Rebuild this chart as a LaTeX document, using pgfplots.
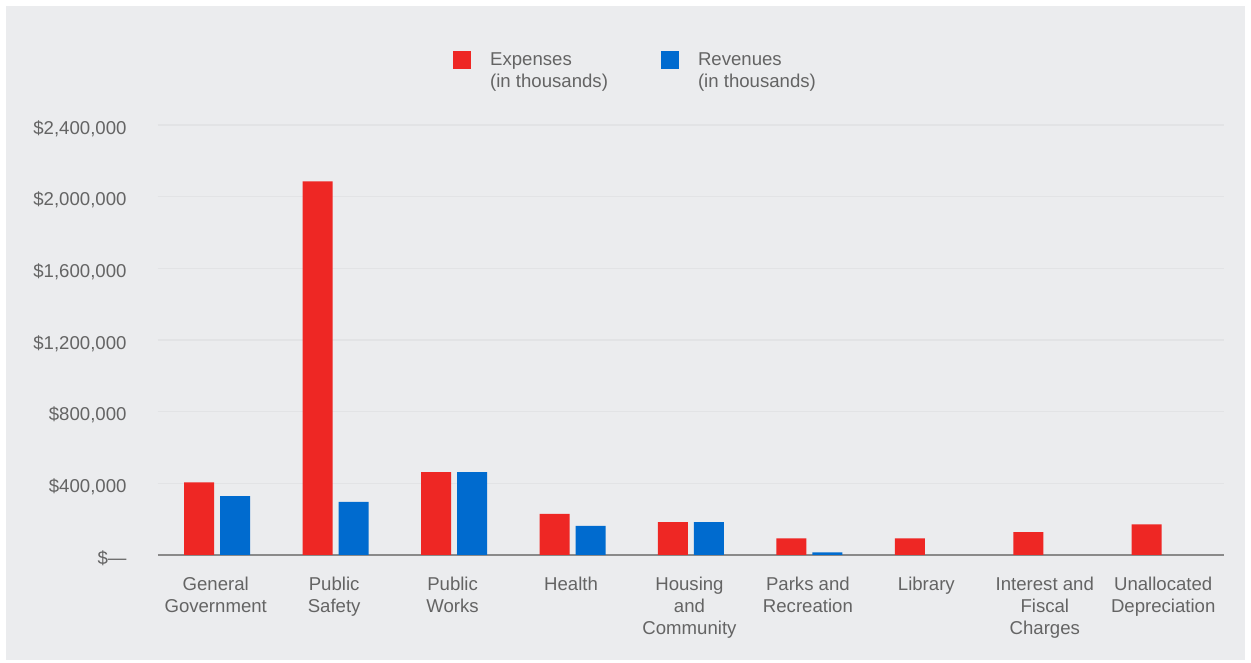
\documentclass[border=0pt]{standalone}
\usepackage{pgfplots}
\pgfplotsset{compat=1.18}
\usepackage{fontspec}
\setmainfont{Liberation Sans}
\definecolor{bg}{HTML}{EBECEE}
\definecolor{gridc}{HTML}{E2E3E5}
\definecolor{expred}{HTML}{EE2724}
\definecolor{revblue}{HTML}{006BCF}
\definecolor{txt}{HTML}{646464}
\definecolor{axc}{HTML}{8A8A8A}
\begin{document}
\begin{tikzpicture}
\fill[white] (-158pt,-108pt) rectangle (1093pt,555pt);
\fill[bg] (-152pt,-105pt) rectangle (1087pt,549pt);
\path[use as bounding box] (-158pt,-108pt) rectangle (1093pt,555pt);
\begin{axis}[
  scale only axis, width=1066pt, height=430pt,
  ybar, bar width=30pt, ybar=6pt,
  every axis plot post/.append style={legend image code/.code={\path (0pt,0pt) (35pt,0pt); \fill[##1] (0pt,1.5pt) rectangle (18pt,19.5pt);}},
  xmin=-0.5, xmax=8.5, ymin=0, ymax=2400000,
  scaled y ticks=false,
  xtick={0,...,8},
  xticklabels={General\\Government, Public\\Safety, Public\\Works, Health, Housing\\and\\Community, Parks and\\Recreation, Library, Interest and\\Fiscal\\Charges, Unallocated\\Depreciation},
  ytick={400000,800000,1200000,1600000,2000000,2400000},
  yticklabels={{\$400,000},{\$800,000},{\$1,200,000},{\$1,600,000},{\$2,000,000},{\$2,400,000}},
  extra y ticks={0}, extra y tick labels={\$—},
  extra y tick style={grid style={axc, line width=1.5pt}},
  ymajorgrids, grid style={gridc, line width=1.2pt},
  axis line style={draw=none}, major tick length=0pt,
  tick label style={font=\fontsize{18.6pt}{22pt}\selectfont, text=txt},
  xticklabel style={align=center, yshift=-18pt, xshift=-1.5pt},
  yticklabel style={xshift=-28pt, yshift=-3.5pt},
  legend style={draw=none, fill=none, inner sep=0pt,
    at={(axis description cs:0.2767,1.174)}, anchor=north west,
    font=\fontsize{18.6pt}{22pt}\selectfont, text=txt,
    cells={align=left},
    /tikz/every even column/.append style={column sep=51pt}},
  legend columns=2,
]
\addplot[fill=expred, draw=none] coordinates {(0,406000) (1,2085000) (2,463000) (3,229000) (4,184000) (5,93000) (6,93000) (7,128000) (8,171000)};
\addplot[fill=revblue, draw=none] coordinates {(0,328000) (1,296000) (2,463000) (3,162000) (4,184000) (5,15000)};
\addlegendentry{Expenses\\(in thousands)}
\addlegendentry{Revenues\\(in thousands)}
\end{axis}
\end{tikzpicture}
\end{document}
